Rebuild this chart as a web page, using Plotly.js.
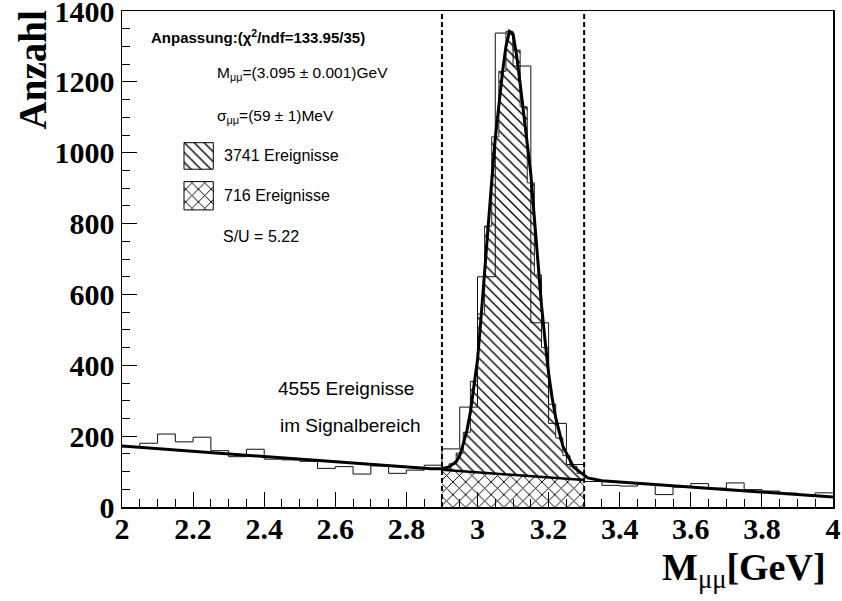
<!DOCTYPE html>
<html>
<head>
<meta charset="utf-8">
<script src="https://cdn.plot.ly/plotly-3.0.1.min.js"></script>
<style>html,body{margin:0;padding:0;background:#fff;}</style>
</head>
<body>
<div id="chart" style="width:842px;height:601px;"></div>
<script>
// Dimuon invariant mass, 0.05 GeV bins between 2.0 and 4.0 GeV
const massLow = 2.0;
const binWidth = 0.05;
const counts = [170, 180, 206, 184, 197, 159, 142, 163, 135, 133,
                129, 109, 114, 93, 116, 95, 104, 118, 164, 282,
                650, 1338, 1245, 520, 236, 120, 72, 61, 59, 64,
                35, 56, 66, 53, 68, 49, 45, 39, 33, 40];

// Signal window
const windowLow = 2.9;
const windowHigh = 3.3;

// Finer 0.02 GeV binning of the signal shape inside the window
const fineWidth = 0.02;
const fineCounts = [110, 122, 152, 211, 355, 545, 793, 1045, 1230, 1343,
                    1290, 1130, 915, 655, 450, 290, 195, 145, 115, 95];

// Fitted curve (Gauss + linear background)
const fitMass = [2.00, 2.50, 2.87, 2.90, 2.92, 2.94, 2.95, 2.96, 2.97, 2.98,
                 2.99, 3.00, 3.01, 3.02, 3.03, 3.04, 3.05, 3.06, 3.07, 3.08,
                 3.09, 3.10, 3.11, 3.12, 3.13, 3.14, 3.15, 3.16, 3.17, 3.18,
                 3.19, 3.20, 3.21, 3.22, 3.24, 3.27, 3.31, 3.35, 4.00];
const fitCounts = [172, 135, 108, 108, 113, 128, 145, 178, 215, 268,
                   340, 415, 535, 655, 785, 920, 1040, 1140, 1225, 1300,
                   1343, 1335, 1275, 1195, 1110, 1030, 940, 815, 690, 570,
                   470, 378, 308, 252, 172, 113, 82, 74, 28];

// Linear background under the peak
const bkgMass = [2.9, 3.3];
const bkgCounts = [105, 76];

// Axis tick labels
const xTickVals = [2, 2.2, 2.4, 2.6, 2.8, 3, 3.2, 3.4, 3.6, 3.8, 4];
const xTickText = ['2', '2.2', '2.4', '2.6', '2.8', '3', '3.2', '3.4', '3.6', '3.8', '4'];
const yTickVals = [0, 200, 400, 600, 800, 1000, 1200, 1400];
const yTickText = ['0', '200', '400', '600', '800', '1000', '1200', '1400'];

// step outlines: bin edges with the last content repeated
function stepEdges(start, width, n) {
  const e = [];
  for (let i = 0; i <= n; i++) e.push(+(start + i * width).toFixed(4));
  return e;
}
const edges = stepEdges(massLow, binWidth, counts.length);
const stepY = counts.concat([counts[counts.length - 1]]);
const fineEdges = stepEdges(windowLow, fineWidth, fineCounts.length);
const fineStepY = fineCounts.concat([fineCounts[fineCounts.length - 1]]);

const black = '#000';
const clear = 'rgba(255,255,255,0)';
const sans = 'Liberation Sans, Arial, sans-serif';
const serif = 'Liberation Serif, Times New Roman, serif';
const singleHatch = {shape: '\\', size: 7, solidity: 0.2, fgcolor: black, bgcolor: clear};
const crossHatch = {shape: 'x', size: 9, solidity: 0.2, fgcolor: black, bgcolor: clear};

const traces = [
  // background in the window, cross-hatched
  {
    x: bkgMass, y: bkgCounts, type: 'scatter', mode: 'lines',
    line: {color: black, width: 2.5},
    fill: 'tozeroy', fillcolor: clear, fillpattern: crossHatch,
    hoverinfo: 'skip'
  },
  // signal above background, single hatch
  {
    x: fineEdges, y: fineStepY, type: 'scatter', mode: 'lines',
    line: {color: '#222', width: 1, shape: 'hv'},
    fill: 'tonexty', fillcolor: clear, fillpattern: singleHatch,
    hoverinfo: 'skip'
  },
  // data histogram outline
  {
    x: edges, y: stepY, type: 'scatter', mode: 'lines',
    line: {color: '#111', width: 1, shape: 'hv'},
    hoverinfo: 'skip'
  },
  // fit
  {
    x: fitMass, y: fitCounts, type: 'scatter', mode: 'lines',
    line: {color: black, width: 3},
    hoverinfo: 'skip'
  },
  // legend swatches (plot-fraction coordinates)
  {
    x: [0.0872, 0.1284, 0.1284, 0.0872, 0.0872], y: [0.681, 0.681, 0.7345, 0.7345, 0.681],
    xaxis: 'x2', yaxis: 'y2', type: 'scatter', mode: 'lines',
    line: {color: black, width: 1}, fill: 'toself', fillcolor: clear, fillpattern: singleHatch,
    hoverinfo: 'skip'
  },
  {
    x: [0.0872, 0.1284, 0.1284, 0.0872, 0.0872], y: [0.599, 0.599, 0.656, 0.656, 0.599],
    xaxis: 'x2', yaxis: 'y2', type: 'scatter', mode: 'lines',
    line: {color: black, width: 1}, fill: 'toself', fillcolor: clear, fillpattern: crossHatch,
    hoverinfo: 'skip'
  }
];

function note(text, x, y, size, opts) {
  return Object.assign({
    text: text, xref: 'paper', yref: 'paper', x: x, y: y,
    xanchor: 'left', yanchor: 'middle', showarrow: false,
    font: {family: sans, size: size, color: black}
  }, opts || {});
}

const annotations = [
  note('Anpassung:(χ<sup>2</sup>/ndf=133.95/35)', 0.0375, 0.948, 15,
       {font: {family: sans, size: 15, color: black, weight: 'bold'}}),
  note('M<sub>μμ</sub>=(3.095 ± 0.001)GeV', 0.1308, 0.875, 15.5),
  note('σ<sub>μμ</sub>=(59 ± 1)MeV', 0.1308, 0.788, 15.5),
  note('3741 Ereignisse', 0.1406, 0.7077, 16),
  note('716 Ereignisse', 0.1406, 0.629, 16),
  note('S/U = 5.22', 0.1394, 0.5454, 16),
  note('4555 Ereignisse', 0.2170, 0.2399, 19),
  note('im Signalbereich', 0.2195, 0.1653, 19),
  // axis titles
  {
    text: 'Anzahl', xref: 'paper', yref: 'paper', x: -0.126, y: 0.881,
    xanchor: 'center', yanchor: 'middle', textangle: -90, showarrow: false,
    font: {family: serif, size: 39, color: black, weight: 'bold'}
  },
  {
    text: '<b>M</b><sub>μμ</sub><b>[GeV]</b>', xref: 'paper', yref: 'paper', x: 0.993, y: -0.128,
    xanchor: 'right', yanchor: 'middle', showarrow: false,
    font: {family: serif, size: 38, color: black}
  }
];

const shapes = [windowLow, windowHigh].map(function (m) {
  return {
    type: 'line', xref: 'x', yref: 'paper', x0: m, x1: m, y0: 0, y1: 1,
    line: {color: black, width: 2, dash: '5px,3px'}, layer: 'above'
  };
});

const tickFont = {family: serif, size: 30, color: black, weight: 'bold'};

const layout = {
  width: 842, height: 601,
  margin: {l: 122, r: 9, t: 11, b: 94},
  paper_bgcolor: '#fff', plot_bgcolor: '#fff',
  showlegend: false,
  xaxis: {
    range: [2, 4], tickmode: 'array', tickvals: xTickVals, ticktext: xTickText,
    ticks: 'inside', ticklen: 15, tickwidth: 1, tickcolor: black,
    minor: {dtick: 0.05, tick0: 2, ticks: 'inside', ticklen: 8, tickwidth: 1, tickcolor: black},
    showline: true, linecolor: black, linewidth: 1.5, mirror: true,
    showgrid: false, zeroline: false, tickfont: tickFont,
    ticklabelstandoff: -6, ticklabeloverflow: 'allow'
  },
  yaxis: {
    range: [0, 1400.3], tickmode: 'array', tickvals: yTickVals, ticktext: yTickText,
    ticks: 'inside', ticklen: 15, tickwidth: 1, tickcolor: black,
    minor: {dtick: 50, tick0: 0, ticks: 'inside', ticklen: 8, tickwidth: 1, tickcolor: black},
    showline: true, linecolor: black, linewidth: 1.5, mirror: true,
    showgrid: false, zeroline: false, tickfont: tickFont,
    ticklabeloverflow: 'allow'
  },
  xaxis2: {overlaying: 'x', range: [0, 1], visible: false, fixedrange: true},
  yaxis2: {overlaying: 'y', range: [0, 1], visible: false, fixedrange: true},
  annotations: annotations,
  shapes: shapes
};

Plotly.newPlot('chart', traces, layout, {staticPlot: true, displayModeBar: false});
</script>
</body>
</html>
